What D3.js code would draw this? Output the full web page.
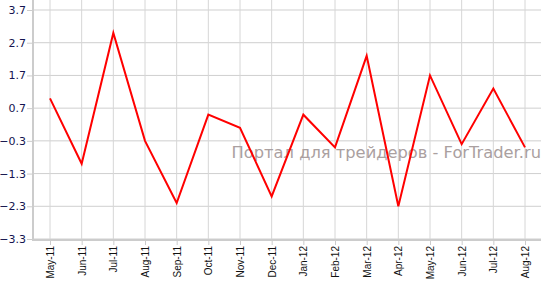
<!DOCTYPE html>
<html>
<head>
<meta charset="utf-8">
<script src="https://cdn.jsdelivr.net/npm/d3@7"></script>
<style>
  body { margin: 0; background: #fff; }
  svg { display: block; }
</style>
</head>
<body>
<svg id="chart" width="550" height="284"></svg>
<script>
const months = ["May-11", "Jun-11", "Jul-11", "Aug-11", "Sep-11", "Oct-11", "Nov-11", "Dec-11",
    "Jan-12", "Feb-12", "Mar-12", "Apr-12", "May-12", "Jun-12", "Jul-12", "Aug-12"];
const values = [1.0, -1.0, 3.0, -0.3, -2.2, 0.5, 0.1, -2.0, 0.5, -0.5, 2.3, -2.3, 1.7, -0.4, 1.3, -0.5];
const yTicks = [3.7, 2.7, 1.7, 0.7, -0.3, -1.3, -2.3, -3.3];
const watermark = "Портал для трейдеров - ForTrader.ru";

const svg = d3.select("#chart");
const plotLeft = 33, plotRight = 541, plotTop = 10, plotBottom = 239;

const x = d3.scalePoint()
    .domain(months)
    .range([50, 525]);
const y = d3.scaleLinear()
    .domain([-3.3, 3.7])
    .range([plotBottom, plotTop]);

// grid
svg.append("g")
    .selectAll("line")
    .data(yTicks)
    .join("line")
    .attr("x1", plotLeft).attr("x2", plotRight)
    .attr("y1", d => y(d)).attr("y2", d => y(d))
    .attr("stroke", "#cfcfcf");

svg.append("g")
    .selectAll("line")
    .data(months)
    .join("line")
    .attr("x1", d => x(d)).attr("x2", d => x(d))
    .attr("y1", 0).attr("y2", plotBottom)
    .attr("stroke", "#d6d6d6");

// watermark
svg.append("text")
    .attr("x", plotRight)
    .attr("y", 158)
    .attr("text-anchor", "end")
    .attr("font-family", "DejaVu Sans")
    .attr("font-size", "16.3px")
    .attr("fill", "#aaa0a0")
    .text(watermark);

// axes
const yAxis = svg.append("g")
    .attr("transform", `translate(${plotLeft},0)`)
    .call(d3.axisLeft(y).tickValues(yTicks).tickFormat(d3.format(".1f")).tickSize(6).tickPadding(1));
yAxis.select(".domain").attr("stroke", "#cccccc").attr("stroke-width", 2)
    .attr("d", `M0,0V${plotBottom + 1}`);
yAxis.selectAll(".tick line").attr("stroke", "#cccccc");
yAxis.selectAll(".tick text")
    .attr("font-family", "DejaVu Sans")
    .attr("font-size", "11px")
    .attr("fill", "#141450");

const xAxis = svg.append("g")
    .attr("transform", `translate(0,${plotBottom + 1})`)
    .call(d3.axisBottom(x).tickSize(5).tickPadding(0));
xAxis.select(".domain").attr("stroke", "#cccccc").attr("stroke-width", 2)
    .attr("d", `M${plotLeft - 1},0H${plotRight}`);
xAxis.selectAll(".tick line").attr("stroke", "#cccccc");
xAxis.selectAll(".tick text")
    .attr("font-family", "Liberation Sans")
    .attr("font-size", "10px")
    .attr("fill", "#111")
    .attr("transform", "rotate(-90)")
    .attr("text-anchor", "end")
    .attr("x", -6)
    .attr("y", 0)
    .attr("dy", "0.35em");

// series
const line = d3.line()
    .x((d, i) => x(months[i]))
    .y(d => y(d));

svg.append("path")
    .datum(values)
    .attr("d", line)
    .attr("fill", "none")
    .attr("stroke", "#ff0000")
    .attr("stroke-width", 2);
</script>
</body>
</html>
